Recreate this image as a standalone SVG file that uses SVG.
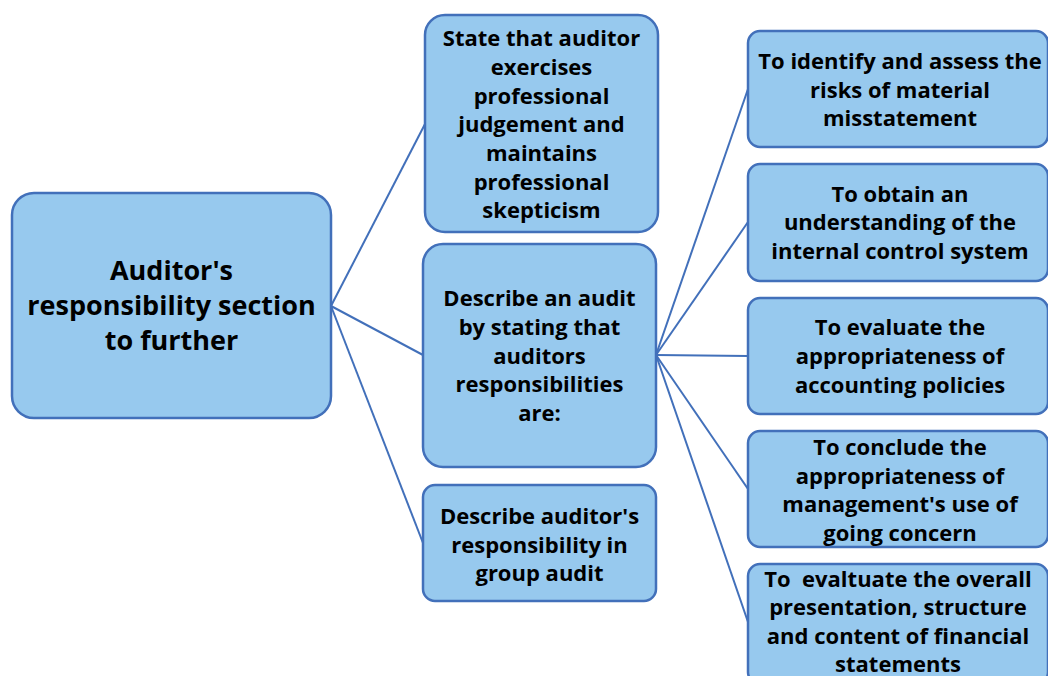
<svg xmlns="http://www.w3.org/2000/svg" width="1048" height="676" viewBox="0 0 1048 676">
<style>
.box{fill:#97C9EE;stroke:#4270BA;stroke-width:2.5}
.t{font-family:"Open Sans","Noto Sans","Liberation Sans",sans-serif;font-weight:bold;font-size:22px;fill:#000;text-anchor:middle;white-space:pre}
.tr{font-size:27px}
.c{fill:none;stroke:#4270BA;stroke-width:2}
</style>
<rect width="1048" height="676" fill="#fff"/>
<g id="connectors">
<line class="c" x1="331" y1="306" x2="425" y2="124"/>
<line class="c" x1="331" y1="306" x2="423" y2="355"/>
<line class="c" x1="331" y1="306" x2="423" y2="543"/>
<line class="c" x1="656" y1="355" x2="748" y2="89"/>
<line class="c" x1="656" y1="355" x2="748" y2="222"/>
<line class="c" x1="656" y1="355" x2="748" y2="356"/>
<line class="c" x1="656" y1="355" x2="748" y2="489"/>
<line class="c" x1="656" y1="355" x2="748" y2="622"/>
</g>
<g id="root">
<rect class="box" x="12" y="193" width="319" height="225" rx="22"/>
<text class="t tr" x="171.5"><tspan x="171.5" y="280">Auditor's</tspan><tspan x="171.5" y="315">responsibility section</tspan><tspan x="171.5" y="350">to further</tspan></text>
</g>
<g id="nodeA">
<rect class="box" x="425" y="15" width="233" height="217" rx="20"/>
<text class="t" x="541.5"><tspan x="541.5" y="46">State that auditor</tspan><tspan x="541.5" y="75">exercises</tspan><tspan x="541.5" y="104">professional</tspan><tspan x="541.5" y="132">judgement and</tspan><tspan x="541.5" y="161">maintains</tspan><tspan x="541.5" y="190">professional</tspan><tspan x="541.5" y="218">skepticism</tspan></text>
</g>
<g id="nodeB">
<rect class="box" x="423" y="244" width="233" height="223" rx="20"/>
<text class="t" x="539.5"><tspan x="539.5" y="306">Describe an audit</tspan><tspan x="539.5" y="335">by stating that</tspan><tspan x="539.5" y="364">auditors</tspan><tspan x="539.5" y="392">responsibilities</tspan><tspan x="539.5" y="421">are:</tspan></text>
</g>
<g id="nodeC">
<rect class="box" x="423" y="485" width="233" height="116" rx="12"/>
<text class="t" x="539.5"><tspan x="539.5" y="524">Describe auditor's</tspan><tspan x="539.5" y="553">responsibility in</tspan><tspan x="539.5" y="581">group audit</tspan></text>
</g>
<g id="r1">
<rect class="box" x="748" y="31" width="300" height="116" rx="12"/>
<text class="t" x="900"><tspan x="900" y="69">To identify and assess the</tspan><tspan x="900" y="98">risks of material</tspan><tspan x="900" y="126">misstatement</tspan></text>
</g>
<g id="r2">
<rect class="box" x="748" y="164" width="300" height="117" rx="12"/>
<text class="t" x="900"><tspan x="900" y="202">To obtain an</tspan><tspan x="900" y="230">understanding of the</tspan><tspan x="900" y="259">internal control system</tspan></text>
</g>
<g id="r3">
<rect class="box" x="748" y="298" width="300" height="116" rx="12"/>
<text class="t" x="900"><tspan x="900" y="335">To evaluate the</tspan><tspan x="900" y="364">appropriateness of</tspan><tspan x="900" y="393">accounting policies</tspan></text>
</g>
<g id="r4">
<rect class="box" x="748" y="431" width="300" height="116" rx="12"/>
<text class="t" x="900"><tspan x="900" y="455">To conclude the</tspan><tspan x="900" y="484">appropriateness of</tspan><tspan x="900" y="512">management's use of</tspan><tspan x="900" y="541">going concern</tspan></text>
</g>
<g id="r5">
<rect class="box" x="748" y="564" width="300" height="120" rx="12"/>
<text class="t" x="898"><tspan x="898" y="587">To  evaltuate the overall</tspan><tspan x="898" y="615">presentation, structure</tspan><tspan x="898" y="644">and content of financial</tspan><tspan x="898" y="672">statements</tspan></text>
</g>
</svg>
